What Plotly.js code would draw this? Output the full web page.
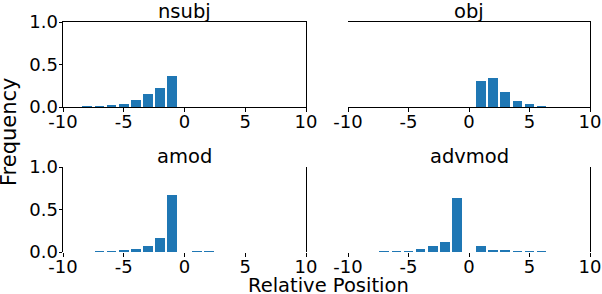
<!DOCTYPE html>
<html>
<head>
<meta charset="utf-8">
<script src="https://cdn.plot.ly/plotly-3.0.1.min.js"></script>
<style>html,body{margin:0;padding:0;background:#fff;}#plot{width:602px;height:294px;}</style>
</head>
<body>
<div id="plot"></div>
<script>
// Data
const nsubjPos = [-8, -7, -6, -5, -4, -3, -2, -1];
const nsubjFreq = [0.01, 0.01, 0.025, 0.03, 0.08, 0.15, 0.22, 0.36];

const objPos = [1, 2, 3, 4, 5, 6];
const objFreq = [0.31, 0.34, 0.18, 0.07, 0.035, 0.012];

const amodPos = [-7, -6, -5, -4, -3, -2, -1, 1, 2];
const amodFreq = [0.008, 0.008, 0.02, 0.035, 0.067, 0.17, 0.67, 0.008, 0.008];

const advmodPos = [-7, -6, -5, -4, -3, -2, -1, 1, 2, 3, 4, 5, 6];
const advmodFreq = [0.008, 0.008, 0.01, 0.035, 0.067, 0.12, 0.635, 0.067, 0.024, 0.024, 0.008, 0.008, 0.008];

const subplotTitles = ["nsubj", "obj", "amod", "advmod"];
const xTicks = [-10, -5, 0, 5, 10];
const yTicks = [0, 0.5, 1];
const yTickText = ["0.0", "0.5", "1.0"];

const BLUE = "#1f77b4";
const FONT = "DejaVu Sans, sans-serif";
const TICKSIZE = 18;
const TITLESIZE = 19.5;

const series = [[nsubjPos, nsubjFreq], [objPos, objFreq], [amodPos, amodFreq], [advmodPos, advmodFreq]];
const traces = series.map((s, i) => ({
  type: "bar", x: s[0], y: s[1], width: 0.8,
  marker: {color: BLUE, line: {width: 0}},
  xaxis: i === 0 ? "x" : "x" + (i + 1),
  yaxis: i === 0 ? "y" : "y" + (i + 1),
  hoverinfo: "skip"
}));

const colDom = [[63/602, 306/602], [348/602, 590/602]];
const rowDom = [[1 - 107/294, 1 - 22/294], [1 - 252/294, 1 - 167/294]];

function xax(i, showline, anchor) {
  return {
    domain: colDom[i % 2], anchor: anchor, range: [-10, 10],
    tickmode: "array", tickvals: xTicks, ticktext: xTicks.map(String),
    ticks: "outside", ticklen: 3.5, tickwidth: 1, tickcolor: "#000",
    ticklabelstandoff: -5,
    showline: showline, mirror: showline, linecolor: "#000", linewidth: 1,
    showgrid: false, zeroline: false,
    tickfont: {family: FONT, size: TICKSIZE, color: "#000"}, fixedrange: true
  };
}
function yax(i, anchor, opts) {
  return Object.assign({
    domain: rowDom[Math.floor(i / 2)], anchor: anchor, range: [0, 1],
    tickmode: "array", tickvals: yTicks, ticktext: yTickText,
    ticks: "outside", ticklen: 3.5, tickwidth: 1, tickcolor: "#000",
    ticklabelstandoff: -3,
    linecolor: "#000", linewidth: 1,
    showgrid: false, zeroline: false,
    tickfont: {family: FONT, size: TICKSIZE, color: "#000"}, fixedrange: true
  }, opts);
}

const annotations = subplotTitles.map((t, i) => ({
  text: t, xref: "paper", yref: "paper",
  x: (colDom[i % 2][0] + colDom[i % 2][1]) / 2,
  y: rowDom[Math.floor(i / 2)][1],
  xanchor: "center", yanchor: "bottom", yshift: -3, showarrow: false,
  font: {family: FONT, size: TITLESIZE, color: "#000"}
}));
annotations.push({
  text: "Relative Position", xref: "paper", yref: "paper",
  x: 328/602, y: 1 - 285/294, xanchor: "center", yanchor: "middle", showarrow: false,
  font: {family: FONT, size: TITLESIZE, color: "#000"}
});
annotations.push({
  text: "Frequency", xref: "paper", yref: "paper", textangle: -90,
  x: 9/602, y: 1 - 132/294, xanchor: "center", yanchor: "middle", showarrow: false,
  font: {family: FONT, size: 21, color: "#000"}
});

const layout = {
  width: 602, height: 294,
  margin: {l: 0, r: 0, t: 0, b: 0, pad: 0},
  paper_bgcolor: "#fff", plot_bgcolor: "rgba(0,0,0,0)",
  showlegend: false, bargap: 0,
  font: {family: FONT, color: "#000"},
  xaxis: xax(0, true, "y"),
  yaxis: yax(0, "x", {showline: true, mirror: true}),
  xaxis2: xax(1, true, "y2"),
  yaxis2: yax(1, "x2", {side: "right", showline: true, ticks: "", showticklabels: false}),
  xaxis3: xax(2, false, "y3"),
  yaxis3: yax(2, "x3", {showline: true, mirror: true}),
  xaxis4: xax(3, false, "y4"),
  yaxis4: yax(3, "x4", {side: "right", showline: true, ticks: "", showticklabels: false}),
  annotations: annotations
};

Plotly.newPlot("plot", traces, layout, {staticPlot: true, displayModeBar: false});
</script>
</body>
</html>
